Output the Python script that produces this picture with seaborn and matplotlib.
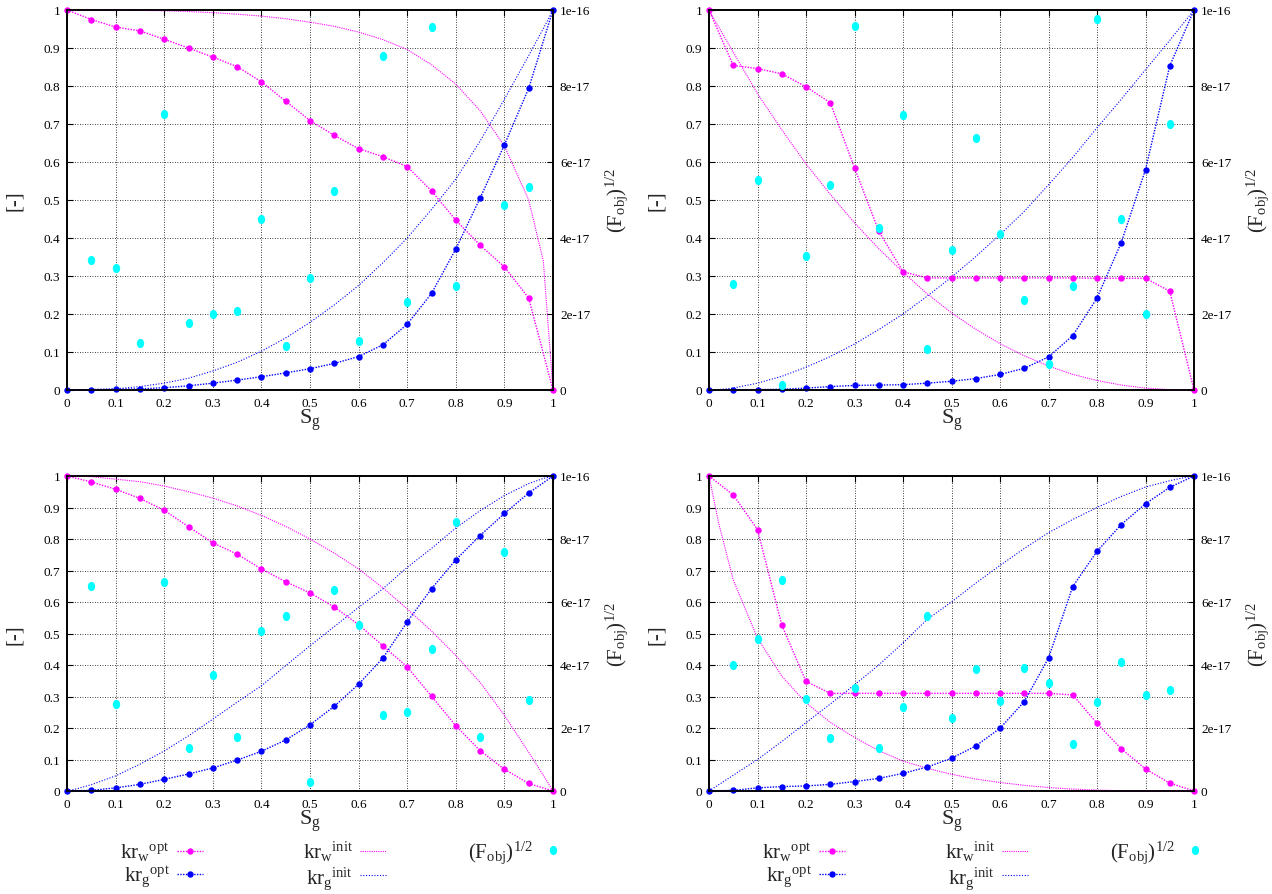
import numpy as np
import matplotlib
matplotlib.use("Agg")
import matplotlib.pyplot as plt
from matplotlib.lines import Line2D
from matplotlib.markers import MarkerStyle
from matplotlib.transforms import Affine2D
import seaborn as sns

# ---------------------------------------------------------------- data
sg = [0.0, 0.05, 0.1, 0.15, 0.2, 0.25, 0.3, 0.35, 0.4, 0.45, 0.5,
      0.55, 0.6, 0.65, 0.7, 0.75, 0.8, 0.85, 0.9, 0.95, 1.0]
init_sg = [0.0, 0.02, 0.05, 0.1, 0.15, 0.2, 0.25, 0.3, 0.35, 0.4, 0.45, 0.5,
           0.55, 0.6, 0.65, 0.7, 0.75, 0.8, 0.85, 0.9, 0.95, 0.98, 1.0]

x_ticks = [0.0, 0.1, 0.2, 0.3, 0.4, 0.5, 0.6, 0.7, 0.8, 0.9, 1.0]
x_tick_labels = ["0", "0.1", "0.2", "0.3", "0.4", "0.5", "0.6", "0.7", "0.8", "0.9", "1"]
y_ticks = [0.0, 0.1, 0.2, 0.3, 0.4, 0.5, 0.6, 0.7, 0.8, 0.9, 1.0]
y_tick_labels = ["0", "0.1", "0.2", "0.3", "0.4", "0.5", "0.6", "0.7", "0.8", "0.9", "1"]
y2_ticks = [0.0, 2e-17, 4e-17, 6e-17, 8e-17, 1e-16]
y2_tick_labels = ["0", "2e-17", "4e-17", "6e-17", "8e-17", "1e-16"]

nan = np.nan

# case A (upper left)
krw_opt_a = [1.0, 0.975, 0.955, 0.945, 0.923, 0.900, 0.876, 0.851, 0.811, 0.760, 0.709,
             0.670, 0.635, 0.614, 0.588, 0.524, 0.447, 0.381, 0.324, 0.242, 0.0]
krg_opt_a = [0.0, 0.001, 0.002, 0.003, 0.006, 0.011, 0.018, 0.026, 0.035, 0.045, 0.056,
             0.070, 0.088, 0.119, 0.173, 0.254, 0.371, 0.505, 0.645, 0.794, 1.0]
krw_init_a = [1.0, 1.0, 1.0, 1.0, 0.999, 0.998, 0.996, 0.993, 0.989, 0.984, 0.977, 0.968,
              0.957, 0.942, 0.922, 0.896, 0.856, 0.805, 0.735, 0.642, 0.50, 0.34, 0.0]
krg_init_a = [0.0, 0.0, 0.001, 0.003, 0.009, 0.018, 0.031, 0.050, 0.073, 0.102, 0.137, 0.178,
              0.224, 0.275, 0.335, 0.400, 0.475, 0.555, 0.655, 0.765, 0.880, 0.951, 1.0]
fobj_a = [nan, 3.41e-17, 3.21e-17, 1.23e-17, 7.27e-17, 1.77e-17, 2.00e-17, 2.07e-17, 4.51e-17,
          1.17e-17, 2.95e-17, 5.24e-17, 1.29e-17, 8.80e-17, 2.31e-17, 9.54e-17, 2.75e-17,
          nan, 4.87e-17, 5.34e-17, nan]

# case B (upper right)
krw_opt_b = [1.0, 0.854, 0.846, 0.832, 0.798, 0.756, 0.585, 0.418, 0.311, 0.295, 0.295,
             0.295, 0.295, 0.295, 0.295, 0.295, 0.294, 0.294, 0.294, 0.260, 0.0]
krg_opt_b = [0.0, 0.001, 0.001, 0.002, 0.005, 0.009, 0.012, 0.013, 0.014, 0.018, 0.023,
             0.030, 0.041, 0.057, 0.087, 0.143, 0.242, 0.388, 0.580, 0.853, 1.0]
krw_init_b = [1.0, 0.955, 0.889, 0.780, 0.685, 0.595, 0.515, 0.440, 0.372, 0.310, 0.253, 0.203,
              0.160, 0.122, 0.090, 0.063, 0.041, 0.025, 0.013, 0.005, 0.001, 0.0, 0.0]
krg_init_b = [0.0, 0.001, 0.005, 0.018, 0.036, 0.060, 0.088, 0.121, 0.159, 0.200, 0.247, 0.297,
              0.351, 0.409, 0.470, 0.540, 0.612, 0.690, 0.765, 0.843, 0.920, 0.968, 1.0]
fobj_b = [nan, 2.80e-17, 5.53e-17, 1.4e-18, 3.53e-17, 5.39e-17, 9.57e-17, 4.26e-17, 7.25e-17,
          1.08e-17, 3.68e-17, 6.62e-17, 4.11e-17, 2.36e-17, 6.9e-18, 2.75e-17, 9.76e-17,
          4.50e-17, 2.01e-17, 7.01e-17, nan]

# case C (lower left)
krw_opt_c = [1.0, 0.981, 0.958, 0.929, 0.891, 0.839, 0.788, 0.752, 0.705, 0.664, 0.629,
             0.584, 0.528, 0.461, 0.394, 0.301, 0.207, 0.128, 0.069, 0.024, 0.0]
krg_opt_c = [0.0, 0.002, 0.010, 0.021, 0.037, 0.054, 0.073, 0.098, 0.126, 0.162, 0.210,
             0.269, 0.339, 0.422, 0.537, 0.642, 0.734, 0.811, 0.881, 0.946, 1.0]
krw_init_c = [1.0, 1.0, 0.998, 0.990, 0.982, 0.968, 0.950, 0.930, 0.905, 0.875, 0.840, 0.800,
              0.755, 0.705, 0.645, 0.578, 0.508, 0.430, 0.345, 0.240, 0.123, 0.050, 0.0]
krg_init_c = [0.0, 0.007, 0.020, 0.048, 0.085, 0.127, 0.175, 0.228, 0.282, 0.334, 0.398, 0.461,
              0.522, 0.583, 0.642, 0.710, 0.770, 0.835, 0.890, 0.938, 0.976, 0.992, 1.0]
fobj_c = [nan, 6.52e-17, 2.76e-17, nan, 6.63e-17, 1.38e-17, 3.68e-17, 1.72e-17, 5.07e-17,
          5.54e-17, 2.9e-18, 6.38e-17, 5.28e-17, 2.41e-17, 2.52e-17, 4.51e-17, 8.54e-17,
          1.72e-17, 7.58e-17, 2.88e-17, nan]

# case D (lower right)
krw_opt_d = [1.0, 0.940, 0.830, 0.527, 0.348, 0.310, 0.310, 0.310, 0.310, 0.310, 0.310,
             0.310, 0.310, 0.310, 0.310, 0.305, 0.215, 0.134, 0.070, 0.025, 0.0]
krg_opt_d = [0.0, 0.002, 0.010, 0.014, 0.016, 0.021, 0.030, 0.040, 0.056, 0.076, 0.104,
             0.143, 0.199, 0.284, 0.422, 0.649, 0.761, 0.846, 0.912, 0.964, 1.0]
krw_init_d = [1.0, 0.850, 0.670, 0.485, 0.365, 0.280, 0.218, 0.170, 0.128, 0.095, 0.072, 0.053,
              0.038, 0.027, 0.018, 0.011, 0.006, 0.003, 0.001, 0.0, 0.0, 0.0, 0.0]
krg_init_d = [0.0, 0.020, 0.050, 0.100, 0.157, 0.217, 0.276, 0.337, 0.400, 0.470, 0.545, 0.600,
              0.660, 0.716, 0.770, 0.820, 0.862, 0.900, 0.935, 0.965, 0.985, 0.995, 1.0]
fobj_d = [nan, 3.99e-17, 4.84e-17, 6.70e-17, 2.93e-17, 1.68e-17, 3.26e-17, 1.38e-17, 2.66e-17,
          5.55e-17, 2.32e-17, 3.86e-17, 2.85e-17, 3.89e-17, 3.43e-17, 1.48e-17, 2.83e-17,
          4.08e-17, 3.05e-17, 3.21e-17, nan]

cases = [
    (krw_opt_a, krg_opt_a, krw_init_a, krg_init_a, fobj_a),
    (krw_opt_b, krg_opt_b, krw_init_b, krg_init_b, fobj_b),
    (krw_opt_c, krg_opt_c, krw_init_c, krg_init_c, fobj_c),
    (krw_opt_d, krg_opt_d, krw_init_d, krg_init_d, fobj_d),
]

# ---------------------------------------------------------------- style
sns.set_style("white")
plt.rcParams.update({
    "font.family": ["Liberation Serif", "DejaVu Serif"],
    "mathtext.fontset": "custom",
    "mathtext.rm": "Liberation Serif",
    "mathtext.it": "Liberation Serif:italic",
    "mathtext.bf": "Liberation Serif:bold",
    "axes.edgecolor": "black",
    "axes.linewidth": 1.2,
})

MAG = "#ff00ff"
BLUE = "#0000ff"
CYAN = "#00ffff"
W, H = 1272, 895
ellipse = MarkerStyle("o", transform=Affine2D().scale(0.8, 1.0))

# axes rectangles in pixels: left, top, right, bottom
boxes = [(67, 11, 553, 391), (709, 11, 1194, 391),
         (67, 477, 553, 792), (709, 477, 1194, 792)]

fig = plt.figure(figsize=(W / 100, H / 100), dpi=100)

for (l, t, r, b), (krw_o, krg_o, krw_i, krg_i, fobj) in zip(boxes, cases):
    ax = fig.add_axes([l / W, 1 - b / H, (r - l) / W, (b - t) / H])
    ax2 = ax.twinx()

    ax.grid(True, color="black", linestyle=(0, (1, 2)), linewidth=0.6)
    ax.set_axisbelow(True)

    line_kw = dict(ax=ax, clip_on=False, legend=False)
    sns.lineplot(x=sg, y=krw_o, color=MAG, linestyle=(0, (1, 1)), linewidth=1.0,
                 marker="o", markersize=4.6, markeredgewidth=0, zorder=4, **line_kw)
    sns.lineplot(x=sg, y=krg_o, color=BLUE, linestyle=(0, (1, 1)), linewidth=1.0,
                 marker="o", markersize=4.6, markeredgewidth=0, zorder=4, **line_kw)
    sns.lineplot(x=init_sg, y=krw_i, color=MAG, linestyle=(0, (1, 1)), linewidth=0.8,
                 zorder=3, **line_kw)
    sns.lineplot(x=init_sg, y=krg_i, color=BLUE, linestyle=(0, (1, 1.5)), linewidth=0.8,
                 zorder=3, **line_kw)
    sns.scatterplot(x=sg, y=fobj, ax=ax2, color=CYAN, marker=ellipse, s=44,
                    linewidth=0, clip_on=False, legend=False, zorder=5)

    ax.set_xlim(0, 1)
    ax.set_ylim(0, 1)
    ax.set_xticks(x_ticks)
    ax.set_xticklabels(x_tick_labels)
    ax.set_yticks(y_ticks)
    ax.set_yticklabels(y_tick_labels)
    ax2.set_ylim(0, 1e-16)
    ax2.set_yticks(y2_ticks)
    ax2.set_yticklabels(y2_tick_labels)

    ax.tick_params(direction="in", length=4.5, width=0.8, top=True, right=False,
                   labelsize=9.5, pad=5, colors="black")
    ax2.tick_params(direction="in", length=4.5, width=0.8, labelsize=9.5, pad=5,
                    colors="black")
    for s in ax.spines.values():
        s.set_linewidth(1.2)
        s.set_color("black")

    ax.set_xlabel(r"$\mathregular{S_g}$", fontsize=16)
    ax.xaxis.set_label_coords(0.5, -17 / (b - t))
    ax.set_ylabel("[-]", fontsize=15)
    ax.yaxis.set_label_coords(-43 / (r - l), 0.5)
    ax2.set_ylabel(r"$\mathregular{(F_{obj})^{1/2}}$", fontsize=15)
    ax2.yaxis.set_label_coords(1 + 50 / (r - l), 0.5)

# ---------------------------------------------------------------- legends
h_wopt = Line2D([], [], color=MAG, linestyle=(0, (1, 1)), linewidth=1.0,
                marker="o", markersize=4.6, markeredgewidth=0)
h_gopt = Line2D([], [], color=BLUE, linestyle=(0, (1, 1)), linewidth=1.0,
                marker="o", markersize=4.6, markeredgewidth=0)
h_winit = Line2D([], [], color=MAG, linestyle=(0, (1, 1)), linewidth=0.8)
h_ginit = Line2D([], [], color=BLUE, linestyle=(0, (1, 1.5)), linewidth=0.8)
h_fobj = Line2D([], [], color=CYAN, linestyle="none", marker=ellipse,
                markersize=6.6, markeredgewidth=0)

lab_wopt = r"$\mathregular{kr_w{}^{opt}}$"
lab_gopt = r"$\mathregular{kr_g{}^{opt}}$"
lab_winit = r"$\mathregular{kr_w{}^{init}}$"
lab_ginit = r"$\mathregular{kr_g{}^{init}}$"
lab_fobj = r"$\mathregular{(F_{obj})^{1/2}}$"

leg_kw = dict(frameon=False, markerfirst=False, fontsize=15, handlelength=1.25,
              handletextpad=0.35, labelspacing=0.05, borderpad=0, borderaxespad=0,
              numpoints=1)
for dx in (0, 642):
    fig.legend([h_wopt, h_gopt], [lab_wopt, lab_gopt], loc="center right",
               bbox_to_anchor=((203 + dx) / W, 1 - 866 / H), **leg_kw)
    fig.legend([h_winit, h_ginit], [lab_winit, lab_ginit], loc="center right",
               bbox_to_anchor=((386 + dx) / W, 1 - 866 / H), **leg_kw)
    fig.legend([h_fobj], [lab_fobj], loc="center right",
               bbox_to_anchor=((566 + dx) / W, 1 - 853 / H), **leg_kw)

fig.savefig("out.png", dpi=100)
